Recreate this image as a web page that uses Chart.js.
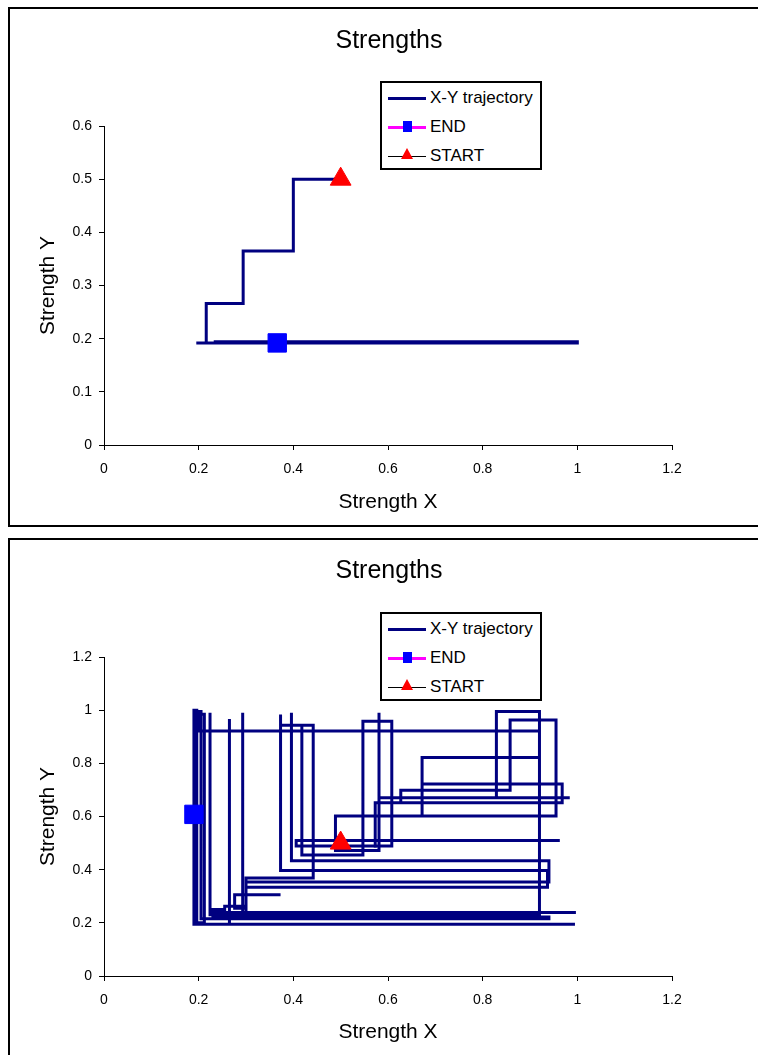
<!DOCTYPE html>
<html>
<head>
<meta charset="utf-8">
<title>Strengths</title>
<script src="https://cdn.jsdelivr.net/npm/chart.js@4.4.1/dist/chart.umd.min.js"></script>
<style>
  html, body { margin: 0; padding: 0; background: #fff; }
  body {
    width: 758px; height: 1055px; position: relative; overflow: hidden;
    font-family: 'Liberation Sans', Arial, sans-serif; color: #000;
  }
  .panel { position: absolute; left: 0; width: 758px; }
  .panel canvas { position: absolute; left: 0; top: 0; }
  .frame {
    position: absolute; left: 8px; width: 790px;
    border: 2px solid #000; box-sizing: border-box;
  }
  .title {
    position: absolute; left: 389px; top: 39px;
    transform: translate(-50%, -50%);
    font-size: 25px; white-space: nowrap;
  }
  .legend {
    position: absolute; left: 380px; width: 162px; height: 89px;
    border: 2px solid #000; box-sizing: border-box; background: #fff;
  }
  .legend .row { position: absolute; left: 0; width: 100%; height: 0; }
  .legend .row span {
    position: absolute; left: 48px; top: 0; transform: translateY(-52%);
    font-size: 17px; white-space: nowrap;
  }
  .legend .ln { position: absolute; left: 6px; width: 38px; }
  .legend .sq {
    position: absolute; left: 21px; top: -6px; width: 9px; height: 11px; background: #0000ff;
  }
  .legend .tri {
    position: absolute; left: 19px; top: -8px; width: 0; height: 0;
    border-left: 6px solid transparent; border-right: 6px solid transparent;
    border-bottom: 11px solid #ff0000;
  }
</style>
</head>
<body>

<div class="panel" style="top:0;height:530px">
  <div class="frame" style="top:7px;height:520px"></div>
  <canvas id="chart-top" width="758" height="530" style="width:758px;height:530px"></canvas>
  <div class="title">Strengths</div>
  <div class="legend" style="top:81px">
    <div class="row" style="top:15px"><div class="ln" style="top:-1.5px;height:3px;background:#000080"></div><span>X-Y trajectory</span></div>
    <div class="row" style="top:44px"><div class="ln" style="top:-1.5px;height:3px;background:#ff00ff"></div><div class="sq"></div><span>END</span></div>
    <div class="row" style="top:73px"><div class="ln" style="top:-0.5px;height:1px;background:#000"></div><div class="tri"></div><span>START</span></div>
  </div>
</div>

<div class="panel" style="top:530px;height:525px">
  <div class="frame" style="top:8px;height:540px"></div>
  <canvas id="chart-bottom" width="758" height="525" style="width:758px;height:525px"></canvas>
  <div class="title">Strengths</div>
  <div class="legend" style="top:82px">
    <div class="row" style="top:15px"><div class="ln" style="top:-1.5px;height:3px;background:#000080"></div><span>X-Y trajectory</span></div>
    <div class="row" style="top:44px"><div class="ln" style="top:-1.5px;height:3px;background:#ff00ff"></div><div class="sq"></div><span>END</span></div>
    <div class="row" style="top:73px"><div class="ln" style="top:-0.5px;height:1px;background:#000"></div><div class="tri"></div><span>START</span></div>
  </div>
</div>

<script>
// ── data ──────────────────────────────────────────────────────────────
const xTicks = [0, 0.2, 0.4, 0.6, 0.8, 1, 1.2];
const xTickLabels = ['0', '0.2', '0.4', '0.6', '0.8', '1', '1.2'];
const yTicksTop = [0, 0.1, 0.2, 0.3, 0.4, 0.5, 0.6];
const yTickLabelsTop = ['0', '0.1', '0.2', '0.3', '0.4', '0.5', '0.6'];
const yTicksBottom = [0, 0.2, 0.4, 0.6, 0.8, 1, 1.2];
const yTickLabelsBottom = ['0', '0.2', '0.4', '0.6', '0.8', '1', '1.2'];

// top chart: short walk that settles on y ~ 0.19
const trajTopX = [0.500, 0.400, 0.400, 0.294, 0.294, 0.216, 0.216, 0.195, 1.000, 1.000, 0.235, 0.235, 0.366];
const trajTopY = [0.500, 0.500, 0.365, 0.365, 0.266, 0.266, 0.192, 0.192, 0.192, 0.194, 0.194, 0.192, 0.192];
const endTopX = [0.366];
const endTopY = [0.192];
const startTopX = [0.500];
const startTopY = [0.500];

// bottom chart: long wandering walk
const trajBottomX = [
  0.500, 0.963, 0.406, 0.406, 0.608, 0.608, 0.547, 0.547, 0.418, 0.418,
  0.373, 0.373, 0.373, 0.937, 0.937, 0.300, 0.300, 0.442, 0.442, 0.396,
  0.396, 0.396, 0.940, 0.940, 0.300, 0.300, 0.276, 0.276, 0.373, 0.293,
  0.293, 0.293, 0.997, 0.224, 0.224, 0.224, 0.920, 0.920, 0.829, 0.829,
  0.984, 0.581, 0.581, 0.581, 0.489, 0.489, 0.955, 0.955, 0.858, 0.858,
  0.627, 0.627, 0.573, 0.573, 0.573, 0.968, 0.968, 0.672, 0.672, 0.672,
  0.920, 0.920, 0.200, 0.200, 0.205, 0.205, 0.940, 0.940, 0.230, 0.230,
  0.255, 0.255, 0.300, 0.300, 0.920, 0.920, 0.265, 0.265, 0.265, 0.995,
  0.190, 0.190, 0.196, 0.196, 0.212, 0.212, 0.190, 0.190
];
const trajBottomY = [
  0.510, 0.510, 0.510, 0.489, 0.489, 0.958, 0.958, 0.455, 0.455, 0.943,
  0.943, 0.984, 0.397, 0.397, 0.334, 0.334, 0.369, 0.369, 0.943, 0.943,
  0.990, 0.434, 0.434, 0.354, 0.354, 0.255, 0.255, 0.306, 0.306, 0.306,
  0.990, 0.239, 0.239, 0.239, 0.990, 0.230, 0.230, 0.995, 0.995, 0.671,
  0.671, 0.671, 0.990, 0.472, 0.472, 0.602, 0.602, 0.963, 0.963, 0.699,
  0.699, 0.652, 0.652, 0.482, 0.652, 0.652, 0.722, 0.722, 0.602, 0.822,
  0.822, 0.922, 0.922, 0.995, 0.995, 0.215, 0.215, 0.222, 0.222, 0.250,
  0.250, 0.262, 0.262, 0.235, 0.235, 0.226, 0.226, 0.967, 0.195, 0.195,
  0.195, 1.000, 1.000, 0.200, 0.200, 0.985, 0.985, 0.608
];
const endBottomX = [0.190];
const endBottomY = [0.608];
const startBottomX = [0.500];
const startBottomY = [0.500];

(function () {
  'use strict';

  const FONT = "'Liberation Sans', Arial, sans-serif";
  const NAVY = '#000080';

  function toPoints(xs, ys) {
    return xs.map(function (x, i) { return { x: x, y: ys[i] }; });
  }

  function axis(ticks, labels, max, title, pad, fitFn) {
    return {
      type: 'linear',
      min: 0,
      max: max,
      afterBuildTicks: function (s) {
        s.ticks = ticks.map(function (v) { return { value: v }; });
      },
      afterFit: fitFn,
      border: { display: true, color: '#000', width: 1 },
      grid: { drawOnChartArea: false, drawTicks: true, tickLength: 5, color: '#000', lineWidth: 1 },
      ticks: {
        color: '#000',
        font: { family: FONT, size: 14 },
        padding: pad,
        maxRotation: 0,
        autoSkip: false,
        callback: function (v, i) { return labels[i]; }
      },
      title: { display: true, text: title, color: '#000', font: { family: FONT, size: 21 }, padding: 0 }
    };
  }

  function buildChart(id, d) {
    const ctx = document.getElementById(id).getContext('2d');
    return new Chart(ctx, {
      type: 'scatter',
      data: {
        datasets: [
          {
            label: 'X-Y trajectory',
            data: toPoints(d.trajX, d.trajY),
            showLine: true,
            borderColor: NAVY,
            borderWidth: 3,
            pointRadius: 0,
            tension: 0,
            order: 3
          },
          {
            label: 'END',
            data: toPoints(d.endX, d.endY),
            showLine: true,
            borderColor: '#ff00ff',
            borderWidth: 3,
            pointStyle: 'rect',
            pointRadius: 13,
            pointBackgroundColor: '#0000ff',
            pointBorderColor: '#0000ff',
            pointBorderWidth: 1,
            order: 1
          },
          {
            label: 'START',
            data: toPoints(d.startX, d.startY),
            showLine: true,
            borderColor: '#000',
            borderWidth: 1,
            pointStyle: 'triangle',
            pointRadius: 12,
            pointBackgroundColor: '#ff0000',
            pointBorderColor: '#ff0000',
            pointBorderWidth: 1,
            order: 2
          }
        ]
      },
      options: {
        responsive: false,
        animation: false,
        events: [],
        layout: { padding: { left: 36, right: 86, top: d.padTop, bottom: d.padBottom } },
        plugins: {
          legend: { display: false },
          title: { display: false },
          tooltip: { enabled: false }
        },
        scales: {
          x: axis(xTicks, xTickLabels, 1.2, 'Strength X', 11, function (s) { s.height = d.xAxisH; }),
          y: axis(d.yTicks, d.yLabels, d.yMax, 'Strength Y', 7, function (s) { s.width = 68; })
        }
      }
    });
  }

  buildChart('chart-top', {
    trajX: trajTopX, trajY: trajTopY,
    endX: endTopX, endY: endTopY,
    startX: startTopX, startY: startTopY,
    yTicks: yTicksTop, yLabels: yTickLabelsTop, yMax: 0.6,
    padTop: 126, padBottom: 15, xAxisH: 70
  });

  buildChart('chart-bottom', {
    trajX: trajBottomX, trajY: trajBottomY,
    endX: endBottomX, endY: endBottomY,
    startX: startBottomX, startY: startBottomY,
    yTicks: yTicksBottom, yLabels: yTickLabelsBottom, yMax: 1.2,
    padTop: 127, padBottom: 10, xAxisH: 69
  });
})();
</script>
</body>
</html>
